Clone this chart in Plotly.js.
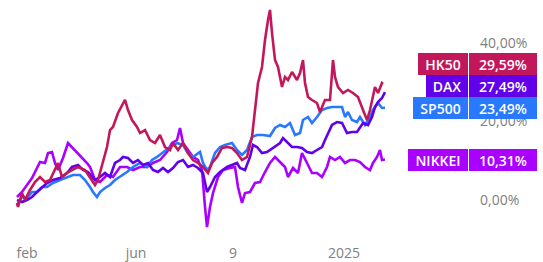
<!DOCTYPE html>
<html>
<head>
<meta charset="utf-8">
<script src="https://cdn.plot.ly/plotly-3.0.1.min.js"></script>
<style>html,body{margin:0;padding:0;background:#fff;}#chart{width:543px;height:262px;}</style>
</head>
<body>
<div id="chart"></div>
<script>
// trading-day index (t) and cumulative performance in %
const hkT = [0,1,5,8,13,18,23,28,33,38,41,45,50,55,61,68,73,78,81,86,90,93,96,101,108,111,115,120,123,128,133,138,143,148,153,156,161,166,171,176,181,186,191,195,200,205,210,215,220,225,230,235,238,241,245,248,251,253,255,258,261,265,268,271,275,280,283,286,288,291,295,300,303,308,313,316,318,321,326,331,336,341,346,350,353,358,361,365,366];
const hkV = [-0.76,-1.78,1.78,0,2.55,4.59,5.86,4.59,5.10,7.64,9.43,5.86,6.88,7.64,8.41,7.64,5.86,3.82,5.10,9.43,13.50,17.83,18.60,22.17,25.48,22.93,20.38,18.60,17.07,17.83,15.29,14.52,16.56,13.50,12.74,14.52,12.74,14.52,11.97,10.19,9.43,8.41,6.88,9.43,10.96,13.25,13.50,13.25,11.97,10.19,10.96,16.05,23.69,29.81,33.89,40.76,45.86,48.41,42.55,35.67,33.89,28.79,31.34,30.57,32.61,30.57,32.36,35.67,29.81,26.24,25.48,24.71,22.42,25.48,25.48,35.67,31.34,28.79,27.26,28.03,27.26,26.24,22.93,20.38,22.93,28.79,27.26,29.81,29.59];

const daxT = [0,5,10,15,20,25,30,36,43,50,55,61,66,71,78,83,88,93,98,103,106,111,116,121,126,131,136,141,146,151,156,161,166,171,176,181,186,190,193,198,203,210,215,220,223,228,233,236,240,245,250,253,258,263,266,271,275,280,285,290,295,300,305,308,311,315,320,325,330,335,340,343,346,351,355,358,361,365,368];
const daxV = [0,-0.51,0,0.76,2.04,3.31,4.33,5.10,5.61,6.88,8.41,8.92,7.64,7.13,5.10,5.86,6.88,5.86,9.43,10.19,10.96,10.70,9.43,10.19,8.92,9.43,7.64,7.13,8.15,7.13,8.15,9.68,10.19,8.41,8.92,8.15,6.88,2.04,3.31,5.86,7.13,8.41,8.92,9.43,8.15,7.64,10.96,14.01,13.50,11.97,12.23,12.74,13.50,14.52,15.80,14.52,13.50,13.50,13.25,12.23,11.97,12.74,13.50,15.29,17.07,19.11,19.87,19.62,17.07,17.32,17.32,18.60,19.62,19.11,21.15,23.69,24.97,25.99,27.49];

const spT = [0,5,10,15,20,25,30,36,43,50,56,63,68,73,76,80,83,88,93,98,103,110,116,123,130,135,140,146,153,160,166,171,176,183,186,190,193,198,203,208,215,220,225,230,235,240,246,253,258,263,268,273,278,283,286,291,295,300,305,310,315,320,325,328,331,335,340,343,348,353,356,361,365,368];
const spV = [-1.27,0.76,0.51,2.04,2.04,3.31,3.31,4.33,5.10,5.86,6.37,6.37,5.10,3.31,2.04,0.76,2.04,3.06,3.82,5.10,5.86,7.13,8.41,9.43,8.41,10.19,10.96,12.23,13.50,14.52,14.01,11.97,10.96,12.23,9.43,7.64,8.41,11.97,13.50,14.01,14.52,12.74,11.46,12.74,16.05,16.56,16.56,16.30,18.34,19.11,18.60,19.62,16.56,17.07,20.38,21.15,19.62,21.15,22.93,23.44,23.69,23.69,23.69,21.15,22.42,20.38,19.87,21.15,19.11,21.15,22.93,24.71,23.44,23.49];

const nkT = [0,5,10,15,20,23,28,31,35,38,41,46,51,55,60,65,70,73,78,83,90,96,103,110,116,123,130,136,143,150,155,160,163,166,171,176,181,185,188,190,193,196,201,206,213,218,221,225,228,233,238,243,248,253,258,263,268,271,276,281,285,290,295,300,305,310,313,318,323,328,333,338,343,348,353,356,360,363,365,368];
const nkV = [0.76,2.04,3.82,5.61,8.15,9.68,9.43,11.97,12.23,9.43,7.64,10.70,14.52,13.50,11.97,10.96,9.43,8.41,5.10,4.59,6.37,5.86,8.41,8.41,7.64,8.41,8.41,9.43,10.19,12.23,14.52,15.29,18.34,14.52,12.74,10.96,10.19,7.64,-1.78,-6.88,-1.78,1.78,5.86,7.64,8.15,8.41,3.31,-0.76,1.78,2.04,4.33,4.59,7.13,9.43,10.96,9.68,8.41,5.86,8.15,6.88,11.97,9.43,6.88,6.88,5.86,8.41,10.96,10.19,10.96,9.43,10.19,10.19,9.68,8.41,7.64,9.43,10.96,12.74,10.19,10.31];

const names = ['HK50','DAX','SP500','NIKKEI'];
const lastLabels = ['29,59%','27,49%','23,49%','10,31%'];
const tickVals = [10,119,216,327];
const tickText = ['feb','jun','9','2025'];
const yTickVals = [0,20,40];
const yTickText = ['0,00%','20,00%','40,00%'];

const colors = {HK50:'#C2185B', DAX:'#6200EA', SP500:'#2979FF', NIKKEI:'#AA00FF'};
const nameW = {HK50:50, DAX:42, SP500:55, NIKKEI:60};

const seriesT = {HK50:hkT, DAX:daxT, SP500:spT, NIKKEI:nkT};
const seriesV = {HK50:hkV, DAX:daxV, SP500:spV, NIKKEI:nkV};

const W = 543, H = 262;
const margin = {l:0, r:64, t:5, b:22, pad:0};
const plotW = W - margin.l - margin.r;
const yRange = [-10.19, 49.68];
const plotH = H - margin.t - margin.b;
const pxPerUnit = plotH / (yRange[1] - yRange[0]);
const boxH = 22;
const nameRight = 468 / plotW;   // paper fraction
const valueRight = 537 / plotW;
const valueW = 68;

const drawOrder = ['NIKKEI','SP500','DAX','HK50'];
const traces = drawOrder.map(n => ({
  type:'scatter', mode:'lines', name:n,
  x: seriesT[n], y: seriesV[n],
  line:{color:colors[n], width:2.6},
  hoverinfo:'skip'
}));

// stack end-label boxes so they don't overlap
const ends = names.map((n,i) => ({n, lab:lastLabels[i], v:seriesV[n][seriesV[n].length-1]}));
ends.sort((a,b)=>a.v-b.v);
const hUnits = boxH / pxPerUnit;
let prev = -Infinity;
ends.forEach(e => { e.y = Math.max(e.v, prev + hUnits); prev = e.y; });

const boxFont = {family:'Open Sans, sans-serif', size:14, color:'#ffffff', weight:600};
const annotations = [];
ends.forEach(e => {
  annotations.push({
    xref:'paper', yref:'y', x:nameRight, y:e.y, xanchor:'right', yanchor:'middle',
    text:e.n, showarrow:false, bgcolor:colors[e.n], borderwidth:0, borderpad:0,
    width:nameW[e.n], height:boxH, align:'center', font:boxFont
  });
  annotations.push({
    xref:'paper', yref:'y', x:valueRight, y:e.y, xanchor:'right', yanchor:'middle',
    text:e.lab, showarrow:false, bgcolor:colors[e.n], borderwidth:0, borderpad:0,
    width:valueW, height:boxH, align:'center', font:boxFont
  });
});

const layout = {
  width:W, height:H, margin:margin,
  paper_bgcolor:'#ffffff', plot_bgcolor:'#ffffff',
  showlegend:false,
  xaxis:{range:[-17,462], showgrid:false, zeroline:false, showline:false, ticks:'',
    tickmode:'array', tickvals:tickVals, ticktext:tickText, ticklabelstandoff:3,
    tickfont:{family:'Open Sans, sans-serif', size:14, color:'#808080'}},
  yaxis:{side:'right', range:yRange, showgrid:false, zeroline:false, showline:false, ticks:'',
    tickmode:'array', tickvals:yTickVals, ticktext:yTickText,
    tickfont:{family:'Open Sans, sans-serif', size:14, color:'#808080'}},
  annotations:annotations
};

Plotly.newPlot('chart', traces, layout, {staticPlot:true, displayModeBar:false});
</script>
</body>
</html>
